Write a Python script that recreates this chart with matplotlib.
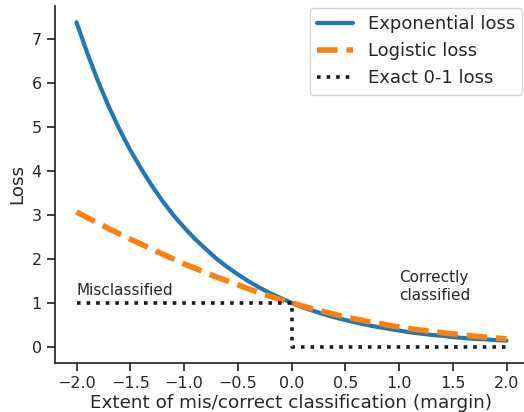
import matplotlib
matplotlib.use("Agg")
import matplotlib.pyplot as plt
import seaborn as sns

sns.set_theme(style="ticks")
plt.rcParams['font.family'] = ['DejaVu Sans']

# margin values and the losses evaluated there
margin = [-2.0, -1.9, -1.8, -1.7, -1.6, -1.5, -1.4, -1.3, -1.2, -1.1, -1.0,
          -0.9, -0.8, -0.7, -0.6, -0.5, -0.4, -0.3, -0.2, -0.1, 0.0,
          0.1, 0.2, 0.3, 0.4, 0.5, 0.6, 0.7, 0.8, 0.9, 1.0,
          1.1, 1.2, 1.3, 1.4, 1.5, 1.6, 1.7, 1.8, 1.9, 2.0]
exp_loss = [7.39, 6.69, 6.05, 5.47, 4.95, 4.48, 4.06, 3.67, 3.32, 3.00, 2.72,
            2.46, 2.23, 2.01, 1.82, 1.65, 1.49, 1.35, 1.22, 1.11, 1.00,
            0.90, 0.82, 0.74, 0.67, 0.61, 0.55, 0.50, 0.45, 0.41, 0.37,
            0.33, 0.30, 0.27, 0.25, 0.22, 0.20, 0.18, 0.17, 0.15, 0.14]
logistic_loss = [3.07, 2.94, 2.82, 2.69, 2.57, 2.45, 2.34, 2.22, 2.11, 2.00, 1.89,
                 1.79, 1.69, 1.59, 1.50, 1.41, 1.32, 1.23, 1.15, 1.07, 1.00,
                 0.93, 0.86, 0.80, 0.74, 0.68, 0.63, 0.58, 0.54, 0.49, 0.45,
                 0.41, 0.38, 0.35, 0.32, 0.29, 0.27, 0.24, 0.22, 0.20, 0.18]
step_x = [-2.0, 0.0, 0.0, 2.0]
step_y = [1.0, 1.0, 0.0, 0.0]

fig = plt.figure(figsize=(5.24, 4.12), dpi=100)
ax = fig.add_axes([55 / 524, 49 / 412, 473 / 524, 357 / 412])

ax.plot(margin, exp_loss, color="#1f77b4", lw=3, label="Exponential loss")
ax.plot(margin, logistic_loss, color="#ff7f0e", lw=4, ls="--", label="Logistic loss")
ax.plot(step_x, step_y, color="#1a1a1a", lw=2.6, ls=":", label="Exact 0-1 loss")

ax.text(-2.0, 1.1, "Misclassified", ha="left", va="bottom", fontsize=11, color="#262626")
ax.text(1.0, 1.0, "Correctly\nclassified", ha="left", va="bottom", fontsize=11, color="#262626")

ax.set_xlim(-2.2, 2.2)
ax.set_ylim(-0.37, 7.76)
ax.set_xticks([-2.0, -1.5, -1.0, -0.5, 0.0, 0.5, 1.0, 1.5, 2.0])
ax.set_xticklabels(["−2.0", "−1.5", "−1.0", "−0.5", "0.0", "0.5", "1.0", "1.5", "2.0"])
ax.set_yticks(range(0, 8))
ax.tick_params(labelsize=11.5, colors="#262626")
ax.set_xlabel("Extent of mis/correct classification (margin)", fontsize=13.2,
              color="#262626", labelpad=2)
ax.set_ylabel("Loss", fontsize=13.2, color="#262626")
sns.despine(ax=ax)

ax.legend(loc="upper right", bbox_to_anchor=(522 / 524, 1 - 8 / 412),
          bbox_transform=fig.transFigure, borderaxespad=0, fontsize=13)

fig.savefig("out.png", dpi=100)
